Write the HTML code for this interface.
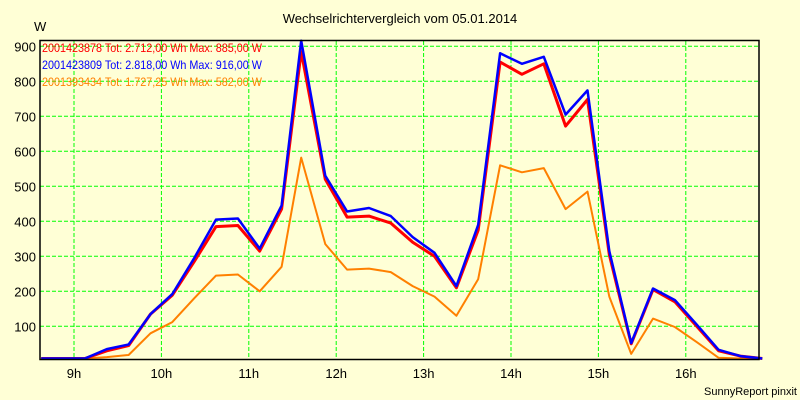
<!DOCTYPE html>
<html><head><meta charset="utf-8"><style>
body{margin:0;background:#FFFFD6;}
svg{display:block;font-family:"Liberation Sans",sans-serif;}
</style></head><body>
<svg width="800" height="400" viewBox="0 0 800 400">
<rect x="0" y="0" width="800" height="400" fill="#FFFFD6"/>
<text x="400" y="23" font-size="13" text-anchor="middle" fill="#000">Wechselrichtervergleich vom 05.01.2014</text>
<text x="34" y="31" font-size="13" fill="#000">W</text>
<text x="797" y="395" font-size="11" text-anchor="end" fill="#000">SunnyReport pinxit</text>
<g id="grid"></g>
<g id="legend">
<text x="42" y="52" font-size="12" textLength="220" lengthAdjust="spacingAndGlyphs" fill="#FF0000">2001423878 Tot: 2.712,00 Wh Max: 885,00 W</text>
<text x="42" y="69" font-size="12" textLength="220" lengthAdjust="spacingAndGlyphs" fill="#0000FF">2001423809 Tot: 2.818,00 Wh Max: 916,00 W</text>
<text x="42" y="86" font-size="12" textLength="220" lengthAdjust="spacingAndGlyphs" fill="#FF8000">2001393434 Tot: 1.727,25 Wh Max: 582,00 W</text>
</g>
<g id="ticks"></g>
<g id="series"></g>
<rect x="40" y="40.5" width="719" height="319" fill="none" stroke="#000" stroke-width="1.5"/>
</svg>
<script>
const times=[8.625,8.875,9.125,9.375,9.625,9.875,10.125,10.375,10.625,10.875,11.125,11.375,11.6,11.875,12.125,12.375,12.625,12.875,13.125,13.375,13.625,13.875,14.125,14.375,14.625,14.875,15.125,15.375,15.625,15.875,16.125,16.375,16.625,16.875];
const redVals=[0,0,5,30,45,135,189,285,385,388,315,435,885,520,412,415,395,340,300,210,375,855,820,850,672,748,305,50,205,170,100,30,15,0];
const blueVals=[0,0,8,35,48,135,192,295,405,408,322,445,916,530,428,438,415,355,310,215,390,880,850,870,705,774,315,52,208,175,105,33,15,0];
const orangeVals=[2,3,6,12,18,80,112,180,245,248,200,270,582,335,262,265,255,215,185,130,235,560,540,552,435,485,185,21,122,98,55,10,7,0];
const yTicks=[100,200,300,400,500,600,700,800,900];
const xTicks=[9,10,11,12,13,14,15,16];
const NS="http://www.w3.org/2000/svg";
function xs(h){return 74+(h-9)*87.4;}
function ys(v){return Math.min(358.5,361.3-v*0.35);}
const grid=document.getElementById('grid'),ticks=document.getElementById('ticks'),series=document.getElementById('series');
yTicks.forEach(v=>{
 const l=document.createElementNS(NS,'line');
 
 
 l.setAttribute('x1',40);l.setAttribute('x2',759);l.setAttribute('y1',ys(v));l.setAttribute('y2',ys(v));
 l.setAttribute('stroke','#00FF00');l.setAttribute('stroke-dasharray','4,2');grid.appendChild(l);
 const t=document.createElementNS(NS,'text');
 
 
 t.setAttribute('x',36);t.setAttribute('y',ys(v)+5);t.setAttribute('text-anchor','end');t.setAttribute('font-size','13');
 t.textContent=v;ticks.appendChild(t);
});
xTicks.forEach(h=>{
 const l=document.createElementNS(NS,'line');
 
 
 l.setAttribute('x1',xs(h));l.setAttribute('x2',xs(h));l.setAttribute('y1',41);l.setAttribute('y2',359);
 l.setAttribute('stroke','#00FF00');l.setAttribute('stroke-dasharray','4,2');grid.appendChild(l);
 const t=document.createElementNS(NS,'text');
 
 
 t.setAttribute('x',xs(h));t.setAttribute('y',378);t.setAttribute('text-anchor','middle');t.setAttribute('font-size','13');
 t.textContent=h+'h';ticks.appendChild(t);
});
function draw(vals,color,w,name){
 const p=document.createElementNS(NS,'polyline');
 
 
 p.setAttribute('points',vals.map((v,i)=>xs(times[i]).toFixed(1)+','+ys(v).toFixed(1)).join(' '));
 p.setAttribute('fill','none');p.setAttribute('stroke',color);p.setAttribute('stroke-width',w);p.setAttribute('stroke-linejoin','round');
 series.appendChild(p);
}
draw(orangeVals,'#FF8000',2,'series-orange-line');
draw(redVals,'#FF0000',3,'series-red-line');
draw(blueVals,'#0000FF',2.5,'series-blue-line');
</script>
</body></html>
